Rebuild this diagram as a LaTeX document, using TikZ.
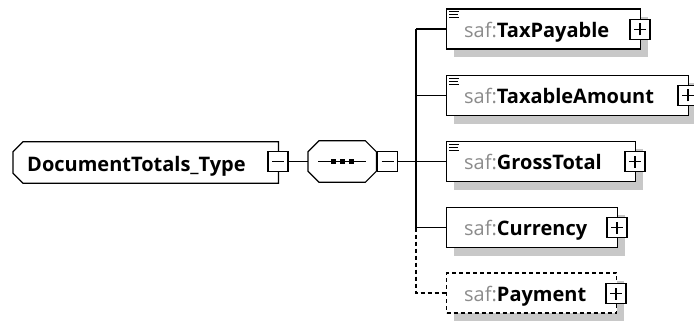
\documentclass[tikz,border=0pt]{standalone}
\usepackage{fontspec}
\setmainfont{Open Sans}
\definecolor{nsgray}{HTML}{8C8C8C}
\definecolor{shadowgray}{HTML}{C8C8C8}
\tikzset{
  x=1pt,y=-1pt,
  every node/.style={font=\fontsize{20}{24}\selectfont},
  elem/.style={draw,line width=1.2pt,fill=white,minimum height=40pt,inner sep=0pt,anchor=west},
  optelem/.style={elem,dash pattern=on 4pt off 3pt},
  tbox/.style={draw,line width=1.2pt,fill=white,minimum width=20pt,minimum height=20pt,inner sep=0pt},
  lbl/.style={anchor=base west,inner sep=0pt},
  conn/.style={line width=1.2pt},
  outline/.style={draw,line width=1.2pt,fill=white},
  mark line/.style={line width=1.5pt},
}
\newcommand{\ns}{\textcolor{nsgray}{saf:}}
\newcommand{\pluss}[1]{%
  \draw[mark line] ([xshift=-6pt]#1.center) -- ([xshift=6pt]#1.center)
    ([yshift=-6pt]#1.center) -- ([yshift=6pt]#1.center);}
\newcommand{\minuss}[1]{%
  \draw[mark line] ([xshift=-6pt]#1.center) -- ([xshift=6pt]#1.center);}
\newcommand{\icon}[1]{%
  \draw[line width=1pt] ([shift={(3,3)}]#1.north west) -- ++(10,0)
    ([shift={(3,6)}]#1.north west) -- ++(9,0)
    ([shift={(3,9)}]#1.north west) -- ++(10,0);}
\newcommand{\shadowof}[1]{%
  \fill[shadowgray] ([shift={(8,8)}]#1.north west) rectangle ([shift={(8,8)}]#1.south east);}
\begin{document}
\begin{tikzpicture}
\useasboundingbox (0,0) rectangle (694,321);
% main type node (chamfered on the left)
\node[minimum width=265pt,minimum height=41pt,inner sep=0pt,anchor=west] (main) at (13,162.5) {};
\fill[shadowgray,shift={(8,8)}] ([xshift=10pt]main.north west) -- (main.north east) -- (main.south east)
  -- ([xshift=10pt]main.south west) -- ([yshift=10pt]main.south west) -- ([yshift=-10pt]main.north west) -- cycle;
\draw[outline] ([xshift=10pt]main.north west) -- (main.north east) -- (main.south east)
  -- ([xshift=10pt]main.south west) -- ([yshift=10pt]main.south west) -- ([yshift=-10pt]main.north west) -- cycle;
\node[lbl] (maintxt) at (27,171.5) {\textbf{DocumentTotals\_Type}};
\node[tbox] (mainm) at (278,161.5) {};
\minuss{mainm}
% sequence node (octagon)
\node[minimum width=68pt,minimum height=41pt,inner sep=0pt,anchor=west] (seq) at (308,161.5) {};
\fill[shadowgray,shift={(8,8)}] ([xshift=11pt]seq.north west) -- ([xshift=-11pt]seq.north east)
  -- ([yshift=-11pt]seq.north east) -- ([yshift=11pt]seq.south east) -- ([xshift=-11pt]seq.south east)
  -- ([xshift=11pt]seq.south west) -- ([yshift=11pt]seq.south west) -- ([yshift=-11pt]seq.north west) -- cycle;
\draw[outline] ([xshift=11pt]seq.north west) -- ([xshift=-11pt]seq.north east)
  -- ([yshift=-11pt]seq.north east) -- ([yshift=11pt]seq.south east) -- ([xshift=-11pt]seq.south east)
  -- ([xshift=11pt]seq.south west) -- ([yshift=11pt]seq.south west) -- ([yshift=-11pt]seq.north west) -- cycle;
\draw[line width=1.2pt] ([xshift=-24pt]seq.center) -- ([xshift=24pt]seq.center);
\foreach \dx [count=\i] in {-9,0,9}{
  \node[fill=black,minimum size=5pt,inner sep=0pt] (dot\i) at ([xshift=\dx pt]seq.center) {};}
\node[tbox,anchor=west] (seqm) at (377,161.5) {};
\minuss{seqm}
\draw[conn] (mainm.east) -- (seq.west);
% children
\node[minimum width=194pt,minimum height=40pt,inner sep=0pt,anchor=west] (tp) at (446,29) {};
\shadowof{tp}
\node[elem,minimum width=194pt] (tpb) at (446,29) {};
\node[lbl] (tptxt) at (464,37.3) {\ns\textbf{TaxPayable}};
\node[tbox] (tpp) at (640,29.5) {};
\pluss{tpp}
\icon{tp}
\node[minimum width=242pt,minimum height=40pt,inner sep=0pt,anchor=west] (ta) at (446,95.5) {};
\shadowof{ta}
\node[elem,minimum width=242pt] (tab) at (446,95.5) {};
\node[lbl] (tatxt) at (464,103.8) {\ns\textbf{TaxableAmount}};
\node[tbox] (tap) at (688,95.5) {};
\pluss{tap}
\icon{ta}
\node[minimum width=189pt,minimum height=40pt,inner sep=0pt,anchor=west] (gt) at (446,161.5) {};
\shadowof{gt}
\node[elem,minimum width=189pt] (gtb) at (446,161.5) {};
\node[lbl] (gttxt) at (464,169.8) {\ns\textbf{GrossTotal}};
\node[tbox] (gtp) at (635,161.5) {};
\pluss{gtp}
\icon{gt}
\node[minimum width=171pt,minimum height=40pt,inner sep=0pt,anchor=west] (cu) at (446,227.5) {};
\shadowof{cu}
\node[elem,minimum width=171pt] (cub) at (446,227.5) {};
\node[lbl] (cutxt) at (464,235.8) {\ns\textbf{Currency}};
\node[tbox] (cup) at (617,227.5) {};
\pluss{cup}
\node[minimum width=170pt,minimum height=40pt,inner sep=0pt,anchor=west] (pa) at (446,293) {};
\shadowof{pa}
\node[optelem,minimum width=170pt] (pab) at (446,293) {};
\node[lbl] (patxt) at (464,301.3) {\ns\textbf{Payment}};
\node[tbox] (pap) at (616,293.5) {};
\pluss{pap}
% bus
\coordinate (b0) at (416,161.5);
\coordinate (b1) at (416,29);
\coordinate (b2) at (416,95.5);
\coordinate (b4) at (416,227.5);
\coordinate (b5) at (416,293);
\draw[conn] (seqm.east) -- (b0);
\draw[conn] (b1) -- (b4);
\draw[conn] (b1) -- (tpb.west);
\draw[conn] (b2) -- (tab.west);
\draw[conn] (b0) -- (gtb.west);
\draw[conn] (b4) -- (cub.west);
\draw[conn,dash pattern=on 4pt off 3pt] (b4) -- (b5) -- (pab.west);
\end{tikzpicture}
\end{document}
